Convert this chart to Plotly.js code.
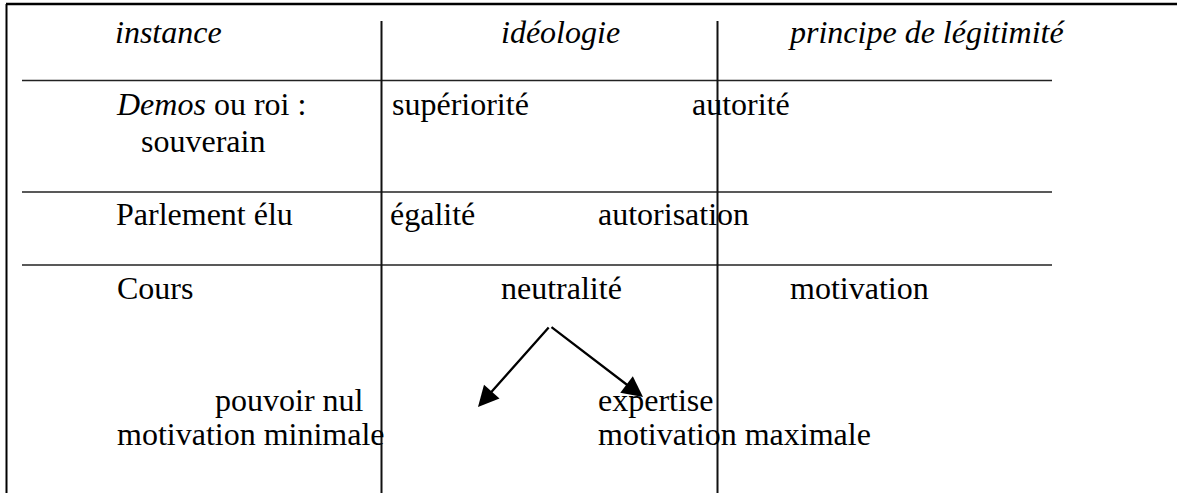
<!DOCTYPE html>
<html>
<head>
<meta charset="utf-8">
<script src="https://cdn.plot.ly/plotly-3.0.1.min.js"></script>
<style>
  html, body { margin: 0; padding: 0; background: #fff; }
  #chart { width: 1177px; height: 493px; }
</style>
</head>
<body>
<div id="chart"></div>
<script>
// En-têtes du tableau (italique)
const headers = ['instance', 'idéologie', 'principe de légitimité'];
const headerX = [113, 499, 786];

// Lignes : instance / idéologie / principe
const instanceLabels = ['<i>Demos</i> ou roi :', 'Parlement élu', 'Cours'];
const instanceX = [114, 114, 115];
const ideologyLabels = ['supériorité', 'égalité', 'neutralité'];
const ideologyX = [390, 388, 499];
const principleLabels = ['autorité', 'autorisation', 'motivation'];
const principleX = [690, 596, 788];
const rowBase = [115, 225, 299];

// Texte complémentaire
const extraLabels = ['souverain', 'pouvoir nul', 'motivation minimale', 'expertise', 'motivation maximale'];
const extraX = [139, 213, 115, 596, 596];
const extraBase = [152, 411, 445, 411, 445];

// Flèches depuis « neutralité »
const arrowFrom = [550, 326];
const arrowTipsX = [478, 643];
const arrowTipsY = [407, 397];

// Traits du tableau
const ruleY = [80.5, 192, 265];
const colX = [381.5, 717.5];

const FONT = { family: '"Liberation Serif", "Times New Roman", serif', size: 32, color: '#000' };
// décalage ligne de base -> centre de la boîte de texte
const BASE_SHIFT = 11;

const annotations = [];

function addText(text, x, base) {
    annotations.push({
        x: x, y: base - BASE_SHIFT, xref: 'x', yref: 'y',
        text: text, showarrow: false,
        xanchor: 'left', yanchor: 'middle',
        font: FONT
    });
}

headers.forEach((h, i) => addText('<i>' + h + '</i>', headerX[i], 43));
instanceLabels.forEach((t, i) => addText(t, instanceX[i], rowBase[i]));
ideologyLabels.forEach((t, i) => addText(t, ideologyX[i], rowBase[i]));
principleLabels.forEach((t, i) => addText(t, principleX[i], rowBase[i]));
extraLabels.forEach((t, i) => addText(t, extraX[i], extraBase[i]));

// flèches
arrowTipsX.forEach((tx, i) => {
    annotations.push({
        x: tx, y: arrowTipsY[i], xref: 'x', yref: 'y',
        ax: arrowFrom[0], ay: arrowFrom[1], axref: 'x', ayref: 'y',
        text: '', showarrow: true,
        arrowhead: 2, arrowsize: 1.8, arrowwidth: 2.3, arrowcolor: '#000',
        standoff: 0, startstandoff: 0
    });
});

const shapes = [];
// cadre extérieur
shapes.push({ type: 'line', xref: 'x', yref: 'y', x0: 6, x1: 1177, y0: 4, y1: 4, line: { color: '#000', width: 2.5 } });
shapes.push({ type: 'line', xref: 'x', yref: 'y', x0: 6.5, x1: 6.5, y0: 4, y1: 493, line: { color: '#000', width: 2 } });
// traits horizontaux
ruleY.forEach(y => {
    shapes.push({ type: 'line', xref: 'x', yref: 'y', x0: 22, x1: 1052, y0: y, y1: y, line: { color: '#222', width: 1.5 } });
});
// traits verticaux
colX.forEach(x => {
    shapes.push({ type: 'line', xref: 'x', yref: 'y', x0: x, x1: x, y0: 21, y1: 493, line: { color: '#111', width: 2 } });
});

const layout = {
    width: 1177,
    height: 493,
    margin: { l: 0, r: 0, t: 0, b: 0 },
    paper_bgcolor: '#fff',
    plot_bgcolor: '#fff',
    showlegend: false,
    xaxis: { range: [0, 1177], visible: false, fixedrange: true },
    yaxis: { range: [493, 0], visible: false, fixedrange: true },
    annotations: annotations,
    shapes: shapes
};

Plotly.newPlot('chart', [{ x: [], y: [], type: 'scatter', mode: 'markers' }], layout, { staticPlot: true, displayModeBar: false });
</script>
</body>
</html>
